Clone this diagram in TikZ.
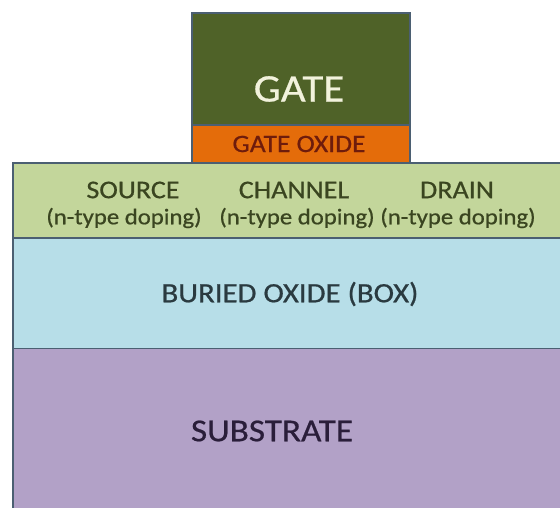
\documentclass[tikz,border=0pt]{standalone}
\usepackage{fontspec}
\setmainfont{Carlito}[FakeStretch=1.1,FakeBold=0.6]
\begin{document}
\begin{tikzpicture}[x=1pt,y=-1pt,
  layer/.style={draw=edgec,line width=2pt},
  lbl/.style={inner sep=0pt,align=center}]
\definecolor{edgec}{HTML}{4B5F72}
\definecolor{gatec}{HTML}{4F6228}
\definecolor{oxc}{HTML}{E46C0A}
\definecolor{sdc}{HTML}{C3D69B}
\definecolor{boxc}{HTML}{B7DEE8}
\definecolor{subc}{HTML}{B2A1C7}
\definecolor{gatetxt}{HTML}{F2F2DC}
\definecolor{oxtxt}{HTML}{6E1C0C}
\definecolor{sdtxt}{HTML}{3A4520}
\definecolor{boxtxt}{HTML}{2A3A40}
\definecolor{subtxt}{HTML}{2A1E3A}
\useasboundingbox (0,0) rectangle (560,508);
\clip (0,0) rectangle (560,508);
% stacked layers
\fill[subc] (13,348) rectangle (570,520);
\draw[layer] (13,520) -- (13,348) -- (570,348);
\fill[boxc] (13,238) rectangle (570,348);
\draw[layer] (13,348) -- (13,238) -- (570,238);
\draw[layer,fill=sdc] (13,163) rectangle (570,238);
\draw[layer,fill=oxc] (192,125) rectangle (410,163);
\draw[layer,fill=gatec] (192,13) rectangle (410,125);
% labels
\node[lbl,text=gatetxt,font=\fontsize{39}{40}\selectfont] (gate) at (299,89) {GATE};
\node[lbl,text=oxtxt,font=\fontsize{25}{26}\selectfont] (ox) at (299,144) {GATE OXIDE};
\node[lbl,text=sdtxt,font=\fontsize{25.5}{26}\selectfont] (src) at (133,190) {SOURCE};
\node[lbl,text=sdtxt,font=\fontsize{25.5}{26}\selectfont] (ch) at (294,190) {CHANNEL};
\node[lbl,text=sdtxt,font=\fontsize{25.5}{26}\selectfont] (dr) at (457,190) {DRAIN};
\node[lbl,text=sdtxt,font=\fontsize{22.5}{24}\selectfont] (srcd) at (124,218) {(n-type doping)};
\node[lbl,text=sdtxt,font=\fontsize{22.5}{24}\selectfont] (chd) at (297,218) {(n-type doping)};
\node[lbl,text=sdtxt,font=\fontsize{22.5}{24}\selectfont] (drd) at (458,218) {(n-type doping)};
\node[lbl,text=boxtxt,font=\fontsize{28}{30}\selectfont] (box) at (290,294) {BURIED OXIDE (BOX)};
\node[lbl,text=subtxt,font=\fontsize{32}{34}\selectfont] (sub) at (272,431) {SUBSTRATE};
\end{tikzpicture}
\end{document}
